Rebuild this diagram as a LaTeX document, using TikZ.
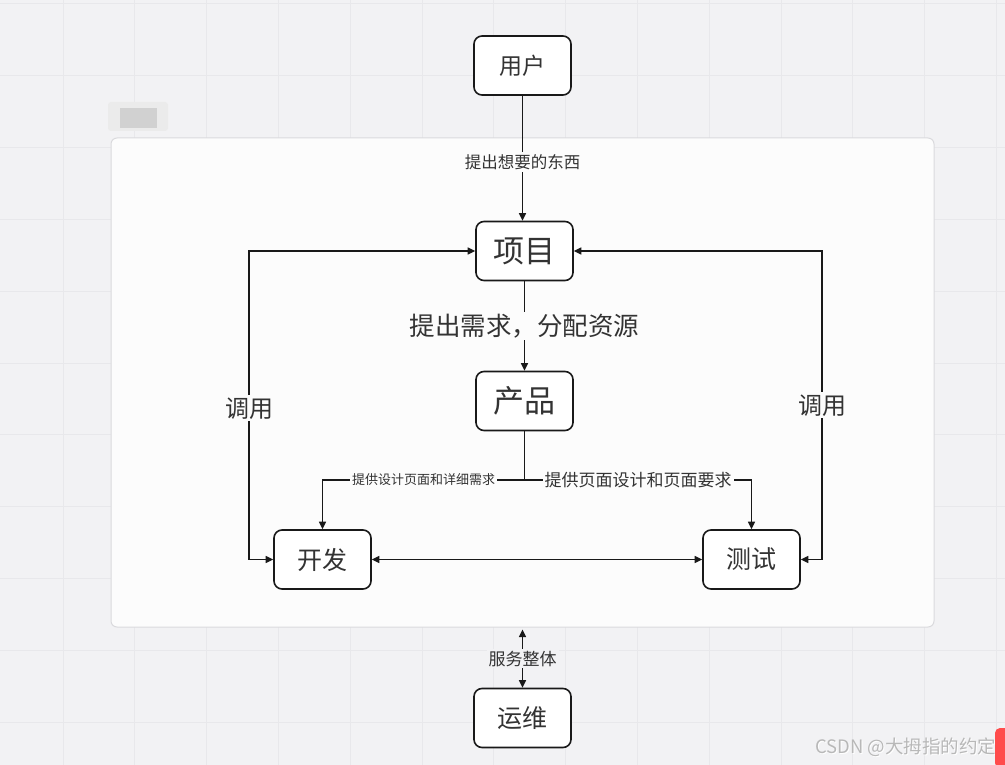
\documentclass[tikz,border=0pt]{standalone}
\usepackage{fontspec}
\setmainfont{Noto Sans CJK SC}
\newfontfamily\cjk{Noto Sans CJK SC}
\usetikzlibrary{arrows.meta}
\definecolor{bgc}{HTML}{F2F2F4}
\definecolor{gridc}{HTML}{E8E8EB}
\definecolor{contc}{HTML}{FCFCFC}
\definecolor{contb}{HTML}{DADADD}
\definecolor{txt}{HTML}{333333}
\tikzset{
  box/.style={draw=black!90, line width=1.6pt, rounded corners=8pt, fill=white,
    minimum width=97pt, minimum height=59pt, text=txt, inner sep=0pt},
  conn/.style={line width=1.3pt, draw=black!90},
  tip/.style={-{Triangle[length=7.5pt,width=7pt]}},
  tips/.style={{Triangle[length=7.5pt,width=7pt]}-{Triangle[length=7.5pt,width=7pt]}},
  lbl/.style={fill=contc, text=txt, inner sep=2pt},
  lblout/.style={fill=bgc, text=txt, inner sep=2pt},
}
\begin{document}
\begin{tikzpicture}[x=1pt,y=-1pt]
\useasboundingbox (0,0) rectangle (1005,765);
\fill[bgc] (0,0) rectangle (1005,765);
% grid
\foreach \i in {0,...,13} {\draw[gridc, line width=1pt] (63+71.8*\i,0) -- (63+71.8*\i,765);}
\foreach \j in {0,...,10} {\draw[gridc, line width=1pt] (0,4+71.8*\j) -- (1005,4+71.8*\j);}
% blurred label
\fill[black!8, rounded corners=3pt] (108,102) rectangle (168,131);
\fill[black!18] (120,108) rectangle (157,128);
% container
\node[draw=contb, line width=1pt, fill=contc, rounded corners=6pt, minimum width=823pt, minimum height=489pt, inner sep=0pt] (container) at (522.5,382.5) {};
% boxes
\node[box, font=\fontsize{23}{23}\selectfont] (user) at (522.5,65.5) {用户};
\node[box, font=\fontsize{31}{31}\selectfont] (proj) at (524.5,251) {项目};
\node[box, font=\fontsize{31}{31}\selectfont] (prod) at (524.5,401) {产品};
\node[box, font=\fontsize{25}{25}\selectfont] (dev) at (322.5,559.5) {开发};
\node[box, font=\fontsize{25}{25}\selectfont] (test) at (751.5,559.5) {测试};
\node[box, font=\fontsize{25}{25}\selectfont] (ops) at (522.5,718) {运维};
% connectors
\draw[conn, tip] (user.south) -- node[lbl, pos=0.53, font=\fontsize{16.5}{16.5}\selectfont]{提出想要的东西} (user.south |- proj.north);
\draw[conn, tip] (proj.south) -- node[lbl, font=\fontsize{25.5}{25.5}\selectfont]{提出需求，分配资源} (prod.north);
\coordinate (junc) at (524.5,480);
\draw[conn] (prod.south) -- (junc);
\draw[conn, tip] (junc) -| node[lbl, pos=0.25, font=\fontsize{13}{13}\selectfont]{提供设计页面和详细需求} (dev.north);
\draw[conn, tip] (junc) -| node[lbl, pos=0.25, font=\fontsize{17}{17}\selectfont]{提供页面设计和页面要求} (test.north);
\draw[conn, tips] (dev.east) -- (test.west);
\coordinate (la) at (249,251);
\coordinate (lb) at (249,559.5);
\draw[conn, tips] (proj.west) -- (la) -- node[lbl, pos=0.51, font=\fontsize{24}{24}\selectfont]{调用} (lb) -- (dev.west);
\coordinate (ra) at (822,251);
\coordinate (rb) at (822,559.5);
\draw[conn, tips] (proj.east) -- (ra) -- node[lbl, font=\fontsize{24}{24}\selectfont]{调用} (rb) -- (test.east);
\draw[conn, tips] (container.south -| ops.north) ++(0,2) -- node[lblout, font=\fontsize{17}{17}\selectfont]{服务整体} (ops.north);
% watermark
\node[text=white, font=\fontsize{18.5}{18.5}\selectfont, anchor=east] (wm2) at (1001,747.8) {CSDN @大拇指的约定};
\node[text=black!28, font=\fontsize{18.5}{18.5}\selectfont, anchor=east] (wm) at (1000,747) {CSDN @大拇指的约定};
\fill[red!70!white, rounded corners=5pt] (995,728) rectangle (1012,768);
\end{tikzpicture}
\end{document}
